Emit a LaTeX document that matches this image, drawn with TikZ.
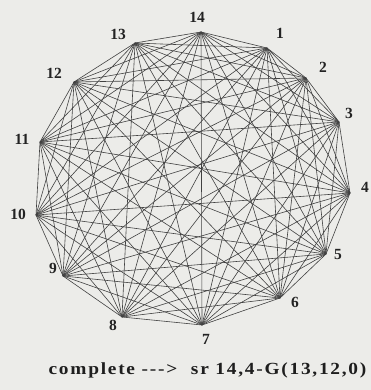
\documentclass[tikz,border=0pt]{standalone}
\usepackage{fontspec}
\setmainfont{Liberation Serif}
\newfontfamily\capfont[LetterSpace=9]{Liberation Serif}
\definecolor{bgc}{RGB}{236,236,233}
\definecolor{edgec}{RGB}{65,65,65}
\definecolor{lblc}{RGB}{35,35,35}
\definecolor{capc}{RGB}{30,30,30}
\begin{document}
\begin{tikzpicture}[x=1pt,y=-1pt,
  edge/.style={draw=edgec, line width=0.6pt},
  lbl/.style={font=\fontsize{15.5}{15.5}\selectfont\bfseries, text=lblc, inner sep=0pt},
  captxt/.style={font=\capfont\fontsize{17}{17}\selectfont\bfseries, text=capc, inner sep=0pt}]
\fill[bgc] (0,0) rectangle (371,390);
\useasboundingbox (0,0) rectangle (371,390);
\coordinate (v14) at (201,32);
\coordinate (v1) at (267,48);
\coordinate (v2) at (306,78);
\coordinate (v3) at (339,122);
\coordinate (v4) at (350,193);
\coordinate (v5) at (326,254);
\coordinate (v6) at (280,298);
\coordinate (v7) at (202,325);
\coordinate (v8) at (122,317);
\coordinate (v9) at (63,276);
\coordinate (v10) at (36,215);
\coordinate (v11) at (40,142);
\coordinate (v12) at (74,82);
\coordinate (v13) at (135,43);
\foreach \i in {1,...,13}{
  \pgfmathtruncatemacro\nxt{\i+1}
  \foreach \j in {\nxt,...,14}{
    \draw[edge] (v\i) -- (v\j);
  }
}
\node[lbl] (l14) at (197,17) {14};
\node[lbl] (l1) at (280,33) {1};
\node[lbl] (l2) at (323,67) {2};
\node[lbl] (l3) at (349,113) {3};
\node[lbl] (l4) at (365,187) {4};
\node[lbl] (l5) at (338,254) {5};
\node[lbl] (l6) at (295,302) {6};
\node[lbl] (l7) at (206,339) {7};
\node[lbl] (l8) at (113,325) {8};
\node[lbl] (l9) at (53,268) {9};
\node[lbl] (l10) at (18,214) {10};
\node[lbl] (l11) at (22,139) {11};
\node[lbl] (l12) at (54,73) {12};
\node[lbl] (l13) at (118,34) {13};
\node[captxt] (caption) at (207.5,370) {\scalebox{1.14}[1]{complete --->\hspace{12pt}sr 14,4-G(13,12,0)}};
\end{tikzpicture}
\end{document}
